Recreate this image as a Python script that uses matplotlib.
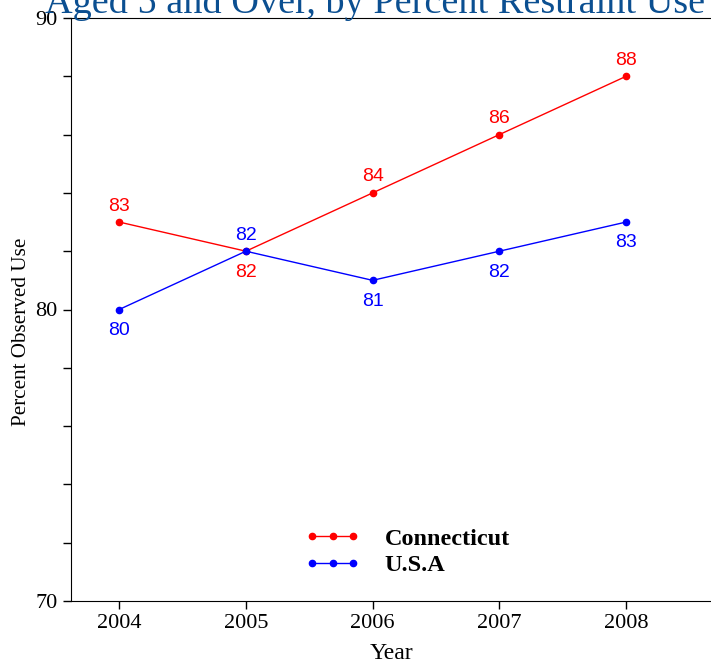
import matplotlib.pyplot as plt
from matplotlib.ticker import MultipleLocator

years = [2004, 2005, 2006, 2007, 2008]
connecticut = [83, 82, 84, 86, 88]
usa = [80, 82, 81, 82, 83]
# label placement: +1 above the point, -1 below
ct_side = [1, -1, 1, 1, 1]
usa_side = [-1, 1, -1, -1, -1]

title = 'Aged 5 and Over, by Percent Restraint Use'
serif = ['Liberation Serif', 'DejaVu Serif']
sans = ['Liberation Sans', 'DejaVu Sans']

fig = plt.figure(figsize=(7.11, 6.64), dpi=100)
ax = fig.add_axes([71 / 711, 63 / 664, 640 / 711, 583 / 664])

ax.plot(years, connecticut, color='red', lw=1, marker='o', ms=4.5, label='Connecticut')
ax.plot(years, usa, color='blue', lw=1, marker='o', ms=4.5, label='U.S.A')


def put_labels(vals, sides, color):
    for x, y, s in zip(years, vals, sides):
        off = 11.5 if s > 0 else -15
        ax.annotate(str(y), (x, y), xytext=(0, off), textcoords='offset points',
                    ha='center', va='center', color=color, fontsize=14, family=sans)


put_labels(connecticut, ct_side, 'red')
put_labels(usa, usa_side, 'blue')

ax.set_xlim(2003.62, 2008.67)
ax.set_ylim(70, 90)
ax.set_xticks(years)
ax.set_yticks([70, 80, 90])
ax.yaxis.set_minor_locator(MultipleLocator(2))
ax.spines['right'].set_visible(False)
ax.tick_params(axis='both', which='both', direction='out', length=6, width=1,
               labelsize=16)
for lab in ax.get_xticklabels() + ax.get_yticklabels():
    lab.set_family(serif)

ax.set_xlabel('Year', family=serif, fontsize=17, labelpad=7)
ax.set_ylabel('Percent Observed Use', family=serif, fontsize=15.2, va='center')
ax.yaxis.set_label_coords(22 / 711, 0.5, transform=fig.transFigure)

fig.text(375 / 711, 1 - 13 / 664, title, ha='center', va='baseline',
         color='#0b4f91', fontsize=27.5, family=serif)

leg = ax.legend(loc='center left', bbox_to_anchor=(0.365, 0.084), frameon=False,
                borderpad=0, borderaxespad=0, numpoints=3, handlelength=2.3,
                handletextpad=1.0, labelspacing=0.2,
                prop={'family': serif, 'weight': 'bold', 'size': 17.5})

fig.savefig('out.png', dpi=100)
